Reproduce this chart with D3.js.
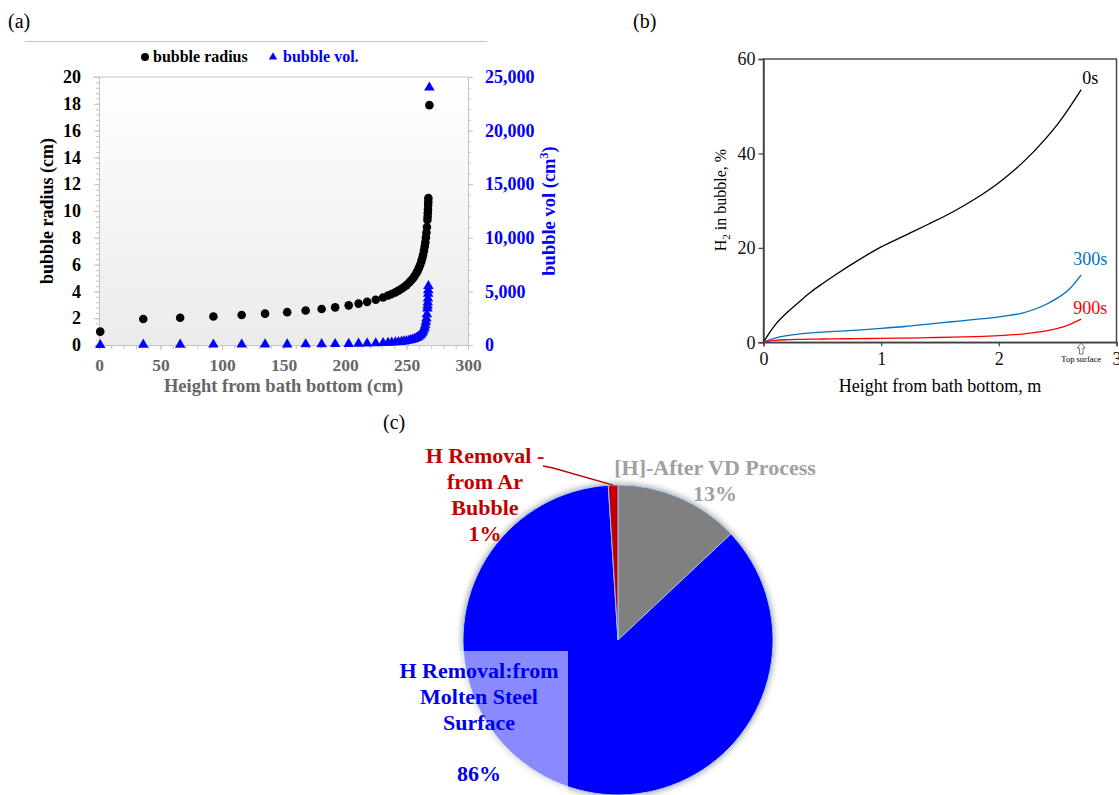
<!DOCTYPE html>
<html>
<head>
<meta charset="utf-8">
<script src="https://cdn.jsdelivr.net/npm/d3@7"></script>
<style>
html,body{margin:0;padding:0;background:#fff;}
svg{display:block;}
</style>
</head>
<body>
<svg id="chart" width="1119" height="795"></svg>
<script>
// ---------- Panel (a) data ----------
const heightCm = [1, 36, 66, 93, 116, 135, 153, 168, 181, 192, 203, 211, 218, 225, 231, 235,
  238, 241, 243.5, 246, 248, 250, 252, 253.5, 255, 256.5, 258, 259, 260, 261, 262, 262.8,
  263.5, 264.2, 264.8, 265.3, 265.8, 266.2, 266.6, 267, 267.15, 267.3, 267.45, 267.6, 267.7, 267.8, 268.6];
const radiusCm = [1.0, 1.94, 2.03, 2.13, 2.24, 2.34, 2.45, 2.57, 2.69, 2.81, 2.96, 3.09, 3.22, 3.38, 3.55, 3.69,
  3.80, 3.93, 4.06, 4.20, 4.33, 4.47, 4.64, 4.79, 4.95, 5.14, 5.36, 5.53, 5.73, 5.96, 6.22, 6.47,
  6.73, 7.04, 7.35, 7.67, 8.03, 8.39, 8.81, 9.33, 9.57, 9.83, 10.12, 10.44, 10.69, 10.96, 17.9];
const volCm3 = [4.2, 30.6, 35.3, 40.7, 46.8, 53.4, 61.7, 70.8, 81.3, 92.9, 108.3, 123.2, 140.1, 162.4, 187.9, 210.0,
  230.2, 254.8, 279.7, 310.0, 339.4, 374.9, 418.7, 459.0, 507.8, 568.3, 645.1, 708.9, 786.9, 884.0, 1008.5, 1136.6,
  1278.6, 1461.3, 1665.2, 1884.3, 2169.8, 2469.1, 2864.2, 3409.7, 3671.8, 3978.0, 4339.6, 4773.6, 5114.6, 5508.0, 24024];
const radiusTicks = [0, 2, 4, 6, 8, 10, 12, 14, 16, 18, 20];
const volTicks = [0, 5000, 10000, 15000, 20000, 25000];
const heightTicks = [0, 50, 100, 150, 200, 250, 300];

// ---------- Panel (b) data ----------
const heightM = [0, 0.05, 0.1, 0.2, 0.3, 0.4, 0.5, 0.6, 0.8, 1.0, 1.2, 1.4, 1.6, 1.8, 2.0, 2.2, 2.4, 2.5, 2.6, 2.7];
const h2At0s = [0, 2.0, 3.7, 6.3, 8.5, 10.6, 12.4, 14.1, 17.3, 20.2, 22.6, 25.0, 27.5, 30.4, 33.8, 38.0, 43.2, 46.2, 49.7, 53.5];
const h2At300s = [0, 0.5, 0.9, 1.4, 1.75, 2.0, 2.15, 2.3, 2.6, 2.95, 3.35, 3.85, 4.35, 4.85, 5.4, 6.2, 8.0, 9.4, 11.3, 14.3];
const h2At900s = [0, 0.25, 0.4, 0.55, 0.62, 0.67, 0.7, 0.73, 0.78, 0.84, 0.9, 0.98, 1.08, 1.2, 1.4, 1.75, 2.4, 2.95, 3.75, 4.9];
const seriesNamesB = ["0s", "300s", "900s"];
const xTicksB = [0, 1, 2, 3];
const yTicksB = [0, 20, 40, 60];

// ---------- Panel (c) data ----------
const pieLabels = ["[H]-After VD Process", "H Removal:from Molten Steel Surface", "H Removal - from Ar Bubble"];
const pieValues = [13, 86, 1];

const SERIF = '"Liberation Serif", "Times New Roman", serif';
const svg = d3.select("#chart");
const defs = svg.append("defs");

// =============== Panel (a) ===============
const xA = d3.scaleLinear().domain([0, 300]).range([99, 468]);
const yR = d3.scaleLinear().domain([0, 20]).range([345, 77]);
const yV = d3.scaleLinear().domain([0, 25000]).range([345, 77]);
const gridGray = "#c4c4c4";

svg.append("text").attr("x", 8).attr("y", 28).attr("font-family", SERIF).attr("font-size", 20).text("(a)");
svg.append("line").attr("x1", 25).attr("x2", 487).attr("y1", 41.5).attr("y2", 41.5).attr("stroke", "#c8c8c8").attr("stroke-width", 1.2);

const grad = defs.append("linearGradient").attr("id", "plotGrad").attr("x1", 0).attr("y1", 0).attr("x2", 0).attr("y2", 1);
grad.append("stop").attr("offset", "0%").attr("stop-color", "#ffffff");
grad.append("stop").attr("offset", "100%").attr("stop-color", "#ebebeb");
svg.append("rect").attr("x", xA(0)).attr("y", yR(20)).attr("width", xA(300) - xA(0)).attr("height", yR(0) - yR(20))
  .attr("fill", "url(#plotGrad)");
svg.append("line").attr("x1", xA(0) - 6).attr("x2", xA(300)).attr("y1", yR(20)).attr("y2", yR(20)).attr("stroke", gridGray);

function styleAxis(g, color, weight, size) {
  g.select(".domain").attr("stroke", gridGray);
  g.selectAll(".tick line").attr("stroke", gridGray);
  g.selectAll(".tick text").attr("fill", color).attr("font-family", SERIF).attr("font-weight", weight).attr("font-size", size);
}
// minor ticks
svg.append("g").attr("transform", `translate(${xA(0)},0)`)
  .call(d3.axisLeft(yR).tickValues(d3.range(0, 20.01, 0.4)).tickSize(3).tickFormat(""))
  .call(g => styleAxis(g, "#000", "bold", 18));
svg.append("g").attr("transform", `translate(${xA(300)},0)`)
  .call(d3.axisRight(yV).tickValues(d3.range(0, 25001, 1000)).tickSize(3).tickFormat(""))
  .call(g => styleAxis(g, "#00f", "bold", 18));
svg.append("g").attr("transform", `translate(0,${yR(0)})`)
  .call(d3.axisBottom(xA).tickValues(d3.range(0, 301, 10)).tickSize(4).tickFormat(""))
  .call(g => styleAxis(g, "#000", "bold", 18));
// major axes
svg.append("g").attr("transform", `translate(${xA(0)},0)`)
  .call(d3.axisLeft(yR).tickValues(radiusTicks).tickSize(5).tickPadding(13))
  .call(g => styleAxis(g, "#000", "bold", 18));
svg.append("g").attr("transform", `translate(${xA(300)},0)`)
  .call(d3.axisRight(yV).tickValues(volTicks).tickSize(5).tickPadding(12).tickFormat(d3.format(",")))
  .call(g => styleAxis(g, "#0000ff", "bold", 18));
svg.append("g").attr("transform", `translate(0,${yR(0)})`)
  .call(d3.axisBottom(xA).tickValues(heightTicks).tickSize(5).tickPadding(9))
  .call(g => styleAxis(g, "#666666", "bold", 17.5));

svg.append("text").attr("transform", `translate(53,${(yR(0) + yR(20)) / 2}) rotate(-90)`).attr("text-anchor", "middle")
  .attr("font-family", SERIF).attr("font-weight", "bold").attr("font-size", 18).text("bubble radius (cm)");
const vt = svg.append("text").attr("transform", `translate(555,${(yR(0) + yR(20)) / 2}) rotate(-90)`).attr("text-anchor", "middle")
  .attr("font-family", SERIF).attr("font-weight", "bold").attr("font-size", 18.5).attr("fill", "#0000ff");
vt.append("tspan").text("bubble vol (cm");
vt.append("tspan").attr("dy", -7).attr("font-size", 12).text("3");
vt.append("tspan").attr("dy", 7).text(")");
svg.append("text").attr("x", (xA(0) + xA(300)) / 2).attr("y", 392).attr("text-anchor", "middle")
  .attr("font-family", SERIF).attr("font-weight", "bold").attr("font-size", 18.5).attr("fill", "#666666")
  .text("Height from bath bottom (cm)");

// legend
svg.append("circle").attr("cx", 145).attr("cy", 57).attr("r", 4).attr("fill", "#000");
svg.append("text").attr("x", 153).attr("y", 62).attr("font-family", SERIF).attr("font-weight", "bold").attr("font-size", 16).text("bubble radius");
svg.append("path").attr("d", d3.symbol(d3.symbolTriangle, 30)()).attr("transform", "translate(273,57)").attr("fill", "#0000ff");
svg.append("text").attr("x", 283).attr("y", 62).attr("font-family", SERIF).attr("font-weight", "bold").attr("font-size", 16).attr("fill", "#0000ff").text("bubble vol.");

// data
const ptsA = heightCm.map((h, i) => ({ h, r: radiusCm[i], v: volCm3[i] }));
svg.append("g").selectAll("circle").data(ptsA).join("circle")
  .attr("cx", d => xA(d.h)).attr("cy", d => yR(d.r)).attr("r", 4.3).attr("fill", "#000");
svg.append("g").selectAll("path").data(ptsA).join("path")
  .attr("d", d3.symbol(d3.symbolTriangle, 48)())
  .attr("transform", d => `translate(${xA(d.h)},${yV(d.v)})`).attr("fill", "#0000ff");

// =============== Panel (b) ===============
const xB = d3.scaleLinear().domain([0, 3]).range([763.5, 1116.5]);
const yB = d3.scaleLinear().domain([0, 60]).range([342.3, 59]);
const frameCol = "#404040";
svg.append("text").attr("x", 633).attr("y", 28).attr("font-family", SERIF).attr("font-size", 20).text("(b)");
svg.append("rect").attr("x", xB(0)).attr("y", yB(60)).attr("width", xB(3) - xB(0)).attr("height", yB(0) - yB(60))
  .attr("fill", "none").attr("stroke", frameCol).attr("stroke-width", 1.4);
const axL = svg.append("g").attr("transform", `translate(${xB(0)},0)`)
  .call(d3.axisLeft(yB).tickValues(yTicksB).tickSize(5).tickPadding(3).tickFormat(d3.format("d")));
const axBt = svg.append("g").attr("transform", `translate(0,${yB(0)})`)
  .call(d3.axisBottom(xB).tickValues(xTicksB).tickSize(4).tickPadding(6).tickFormat(d3.format("d")));
[axL, axBt].forEach(g => {
  g.select(".domain").attr("stroke", frameCol).attr("stroke-width", 1.4);
  g.selectAll(".tick line").attr("stroke", frameCol).attr("stroke-width", 1.2);
  g.selectAll(".tick text").attr("font-family", SERIF).attr("font-size", 18).attr("fill", "#111");
});
const lineB = d3.line().x(d => xB(d[0])).y(d => yB(d[1])).curve(d3.curveMonotoneX);
const seriesB = [h2At0s, h2At300s, h2At900s];
const colorsB = ["#000000", "#0070c0", "#ff0000"];
const labelLift = [6, 10, 5];
seriesB.forEach((s, i) => {
  svg.append("path").attr("d", lineB(heightM.map((m, j) => [m, s[j]])))
    .attr("fill", "none").attr("stroke", colorsB[i]).attr("stroke-width", 1.3);
  svg.append("text").attr("x", xB(heightM[heightM.length - 1]) + 9).attr("y", yB(s[s.length - 1]) - labelLift[i])
    .attr("text-anchor", "middle").attr("font-family", SERIF).attr("font-size", 18).attr("fill", colorsB[i])
    .text(seriesNamesB[i]);
});
const yt = svg.append("text").attr("transform", `translate(726,200) rotate(-90)`).attr("text-anchor", "middle")
  .attr("font-family", SERIF).attr("font-size", 16);
yt.append("tspan").text("H");
yt.append("tspan").attr("dy", 4).attr("font-size", 11).text("2");
yt.append("tspan").attr("dy", -4).text(" in bubble, %");
svg.append("text").attr("x", 940).attr("y", 392).attr("text-anchor", "middle").attr("font-family", SERIF).attr("font-size", 18)
  .text("Height from bath bottom, m");
// Top surface marker
const ax = xB(2.7);
svg.append("path").attr("d", `M${ax},343 L${ax - 4},348 L${ax - 1.8},348 L${ax - 1.8},354 L${ax + 1.8},354 L${ax + 1.8},348 L${ax + 4},348 Z`)
  .attr("fill", "#fff").attr("stroke", "#555").attr("stroke-width", 0.8);
svg.append("text").attr("x", ax).attr("y", 362).attr("text-anchor", "middle").attr("font-family", SERIF).attr("font-size", 8.5)
  .text("Top surface");

// =============== Panel (c) ===============
svg.append("text").attr("x", 383).attr("y", 429).attr("font-family", SERIF).attr("font-size", 20).text("(c)");
const cx = 618, cy = 640, R = 155;
const shadow = defs.append("filter").attr("id", "pieShadow").attr("x", "-20%").attr("y", "-20%").attr("width", "140%").attr("height", "140%");
shadow.append("feDropShadow").attr("dx", 0).attr("dy", 0).attr("stdDeviation", 3.5).attr("flood-color", "#000").attr("flood-opacity", 0.45);
const pieGen = d3.pie().sort(null).value(d => d);
const arcs = pieGen(pieValues);
const arcGen = d3.arc().innerRadius(0).outerRadius(R);
const pieColors = ["#808080", "#0000ff", "#c00000"];
const pg = svg.append("g").attr("transform", `translate(${cx},${cy})`).attr("filter", "url(#pieShadow)");
pg.selectAll("path").data(arcs).join("path").attr("d", arcGen)
  .attr("fill", (d, i) => pieColors[i]).attr("stroke", "#9cc2ee").attr("stroke-width", 1);

// translucent label box
svg.append("rect").attr("x", 372).attr("y", 651).attr("width", 196).attr("height", 150).attr("fill", "#fff").attr("opacity", 0.54);

// labels
function multiText(lines, x, y0, dy, color, size) {
  const t = svg.append("text").attr("text-anchor", "middle").attr("font-family", SERIF).attr("font-weight", "bold")
    .attr("font-size", size).attr("fill", color);
  lines.forEach((l, i) => t.append("tspan").attr("x", x).attr("y", y0 + (Array.isArray(dy) ? dy[i] : dy * i)).text(l));
}
multiText(["H Removal -", "from Ar", "Bubble", Math.round(pieValues[2]) + "%"], 485, 463, 26, "#c00000", 22);
multiText(["[H]-After VD Process", Math.round(pieValues[0]) + "%"], 715, 475, 26, "#a0a0a0", 22);
multiText(["H Removal:from", "Molten Steel", "Surface", Math.round(pieValues[1]) + "%"], 479, 678, [0, 26, 52, 103], "#0000ee", 22);

// leader line for small red slice
const ang = (arcs[2].startAngle + arcs[2].endAngle) / 2;
const ex = cx + Math.sin(ang) * R, ey = cy - Math.cos(ang) * R;
svg.append("polyline").attr("points", `543,466 553,468 ${ex},${ey}`).attr("fill", "none").attr("stroke", "#c00000").attr("stroke-width", 1.3);
</script>
</body>
</html>
